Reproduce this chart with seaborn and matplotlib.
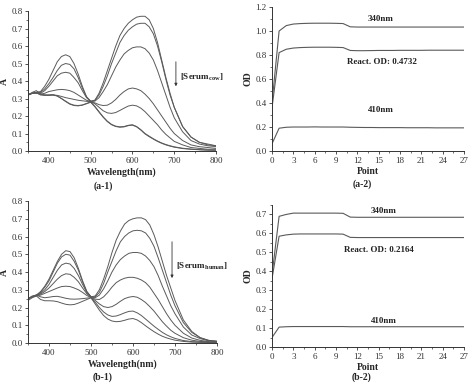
import numpy as np
import pandas as pd
import matplotlib
matplotlib.use("Agg")
import matplotlib.pyplot as plt
import seaborn as sns
from matplotlib.ticker import MultipleLocator

# --- spectra (a-1): cow serum ---
wl = [350, 360, 370, 380, 390, 400, 410, 420, 430, 440, 450, 460, 470, 480, 490,
      500, 510, 520, 530, 540, 550, 560, 570, 580, 590, 600, 610, 620, 630, 640,
      650, 660, 670, 680, 690, 700, 720, 740, 760, 780, 800]

cow_1 = [0.32, 0.33, 0.335, 0.34, 0.37, 0.41, 0.46, 0.51, 0.54, 0.55, 0.54, 0.50, 0.44, 0.37, 0.31,
         0.28, 0.29, 0.33, 0.39, 0.46, 0.53, 0.60, 0.66, 0.70, 0.73, 0.75, 0.765, 0.77, 0.77, 0.75,
         0.70, 0.62, 0.52, 0.42, 0.33, 0.25, 0.14, 0.08, 0.05, 0.04, 0.03]
cow_2 = [0.32, 0.33, 0.335, 0.335, 0.355, 0.385, 0.42, 0.46, 0.49, 0.50, 0.495, 0.47, 0.42, 0.36, 0.31,
         0.285, 0.29, 0.32, 0.37, 0.43, 0.50, 0.56, 0.62, 0.66, 0.69, 0.71, 0.725, 0.73, 0.73, 0.71,
         0.67, 0.60, 0.51, 0.41, 0.32, 0.25, 0.14, 0.08, 0.05, 0.035, 0.03]
cow_3 = [0.32, 0.33, 0.335, 0.33, 0.345, 0.37, 0.40, 0.43, 0.445, 0.45, 0.445, 0.42, 0.39, 0.345, 0.305,
         0.285, 0.285, 0.305, 0.34, 0.38, 0.43, 0.48, 0.52, 0.555, 0.575, 0.59, 0.595, 0.595, 0.585, 0.56,
         0.52, 0.46, 0.39, 0.32, 0.25, 0.19, 0.11, 0.06, 0.04, 0.03, 0.025]
cow_4 = [0.32, 0.33, 0.33, 0.325, 0.33, 0.34, 0.345, 0.35, 0.352, 0.35, 0.345, 0.335, 0.32, 0.305, 0.29,
         0.283, 0.275, 0.265, 0.26, 0.262, 0.275, 0.295, 0.32, 0.34, 0.355, 0.36, 0.355, 0.345, 0.325, 0.30,
         0.27, 0.235, 0.20, 0.165, 0.13, 0.10, 0.06, 0.035, 0.025, 0.02, 0.015]
cow_5 = [0.32, 0.33, 0.33, 0.325, 0.32, 0.32, 0.32, 0.318, 0.312, 0.305, 0.30, 0.295, 0.29, 0.287, 0.284,
         0.282, 0.27, 0.25, 0.23, 0.218, 0.215, 0.22, 0.232, 0.245, 0.257, 0.262, 0.258, 0.245, 0.225, 0.20,
         0.175, 0.15, 0.12, 0.095, 0.075, 0.055, 0.035, 0.02, 0.015, 0.01, 0.01]
cow_6 = [0.32, 0.335, 0.345, 0.325, 0.32, 0.32, 0.322, 0.315, 0.30, 0.285, 0.27, 0.262, 0.26, 0.263, 0.272,
         0.28, 0.255, 0.225, 0.195, 0.17, 0.152, 0.142, 0.138, 0.14, 0.147, 0.15, 0.14, 0.122, 0.10, 0.085,
         0.07, 0.057, 0.046, 0.037, 0.03, 0.024, 0.016, 0.011, 0.008, 0.006, 0.005]
cow_7 = [0.325, 0.33, 0.335, 0.32, 0.318, 0.318, 0.32, 0.314, 0.30, 0.283, 0.268, 0.26, 0.258, 0.262, 0.27,
         0.279, 0.253, 0.222, 0.193, 0.168, 0.15, 0.14, 0.136, 0.138, 0.145, 0.148, 0.138, 0.12, 0.098, 0.082,
         0.068, 0.055, 0.044, 0.035, 0.028, 0.022, 0.014, 0.01, 0.007, 0.005, 0.004]

# --- spectra (b-1): human serum ---
hum_1 = [0.25, 0.26, 0.27, 0.29, 0.32, 0.36, 0.41, 0.46, 0.50, 0.52, 0.515, 0.48, 0.42, 0.35, 0.29,
         0.26, 0.265, 0.30, 0.36, 0.43, 0.51, 0.58, 0.63, 0.67, 0.69, 0.70, 0.705, 0.705, 0.695, 0.665,
         0.61, 0.54, 0.46, 0.38, 0.31, 0.24, 0.13, 0.065, 0.03, 0.015, 0.01]
hum_2 = [0.25, 0.26, 0.27, 0.285, 0.315, 0.35, 0.40, 0.45, 0.485, 0.50, 0.495, 0.46, 0.41, 0.345, 0.29,
         0.26, 0.26, 0.285, 0.335, 0.40, 0.46, 0.52, 0.57, 0.60, 0.62, 0.632, 0.635, 0.632, 0.62, 0.59,
         0.545, 0.48, 0.41, 0.34, 0.27, 0.21, 0.115, 0.06, 0.03, 0.015, 0.01]
hum_3 = [0.25, 0.26, 0.27, 0.28, 0.30, 0.33, 0.37, 0.41, 0.44, 0.45, 0.445, 0.42, 0.38, 0.33, 0.285,
         0.26, 0.255, 0.27, 0.305, 0.35, 0.40, 0.44, 0.47, 0.49, 0.505, 0.51, 0.51, 0.505, 0.49, 0.465,
         0.43, 0.38, 0.32, 0.265, 0.21, 0.165, 0.09, 0.045, 0.025, 0.012, 0.008]
hum_4 = [0.25, 0.26, 0.27, 0.275, 0.29, 0.31, 0.335, 0.36, 0.38, 0.39, 0.387, 0.37, 0.345, 0.31, 0.278,
         0.258, 0.247, 0.245, 0.26, 0.285, 0.315, 0.34, 0.355, 0.365, 0.37, 0.37, 0.365, 0.355, 0.34, 0.315,
         0.28, 0.245, 0.205, 0.165, 0.13, 0.10, 0.055, 0.028, 0.015, 0.008, 0.005]
hum_5 = [0.25, 0.26, 0.265, 0.27, 0.28, 0.29, 0.30, 0.31, 0.318, 0.32, 0.318, 0.31, 0.30, 0.285, 0.268,
         0.256, 0.24, 0.22, 0.205, 0.20, 0.205, 0.218, 0.235, 0.25, 0.258, 0.262, 0.258, 0.245, 0.228, 0.205,
         0.18, 0.15, 0.12, 0.095, 0.072, 0.055, 0.03, 0.016, 0.009, 0.006, 0.004]
hum_6 = [0.25, 0.265, 0.27, 0.26, 0.255, 0.258, 0.262, 0.263, 0.258, 0.252, 0.248, 0.247, 0.248, 0.25, 0.253,
         0.255, 0.23, 0.20, 0.175, 0.158, 0.15, 0.152, 0.16, 0.17, 0.178, 0.18, 0.17, 0.155, 0.135, 0.115,
         0.095, 0.077, 0.06, 0.046, 0.035, 0.026, 0.014, 0.008, 0.005, 0.004, 0.003]
hum_7 = [0.24, 0.255, 0.265, 0.245, 0.238, 0.238, 0.237, 0.233, 0.225, 0.218, 0.215, 0.217, 0.225, 0.235, 0.245,
         0.255, 0.22, 0.185, 0.155, 0.135, 0.124, 0.12, 0.122, 0.128, 0.135, 0.138, 0.13, 0.115, 0.097, 0.08,
         0.064, 0.05, 0.038, 0.029, 0.022, 0.016, 0.009, 0.005, 0.004, 0.003, 0.002]

# --- kinetics (a-2), (b-2) ---
point = list(range(28))
a_340 = [0.40, 1.00, 1.045, 1.058, 1.062, 1.064, 1.065, 1.065, 1.065, 1.064, 1.062, 1.035, 1.033, 1.033,
         1.033, 1.033, 1.033, 1.033, 1.033, 1.033, 1.033, 1.033, 1.033, 1.033, 1.033, 1.033, 1.033, 1.033]
a_react = [0.36, 0.82, 0.848, 0.858, 0.862, 0.864, 0.865, 0.865, 0.865, 0.864, 0.862, 0.838, 0.836, 0.836,
           0.837, 0.838, 0.838, 0.838, 0.839, 0.839, 0.839, 0.839, 0.84, 0.84, 0.84, 0.84, 0.84, 0.84]
a_410 = [0.06, 0.19, 0.198, 0.2, 0.2, 0.2, 0.201, 0.2, 0.2, 0.2, 0.2, 0.198, 0.197, 0.196,
         0.196, 0.195, 0.195, 0.195, 0.195, 0.194, 0.194, 0.194, 0.194, 0.193, 0.193, 0.193, 0.193, 0.193]
b_340 = [0.38, 0.69, 0.70, 0.707, 0.707, 0.707, 0.707, 0.707, 0.707, 0.707, 0.706, 0.686, 0.685, 0.685,
         0.685, 0.685, 0.685, 0.685, 0.685, 0.685, 0.685, 0.685, 0.685, 0.685, 0.685, 0.685, 0.685, 0.685]
b_react = [0.36, 0.585, 0.592, 0.596, 0.597, 0.597, 0.597, 0.597, 0.597, 0.597, 0.596, 0.579, 0.578, 0.578,
           0.578, 0.578, 0.578, 0.578, 0.578, 0.578, 0.578, 0.578, 0.578, 0.578, 0.578, 0.578, 0.578, 0.578]
b_410 = [0.05, 0.105, 0.107, 0.108, 0.108, 0.108, 0.108, 0.108, 0.108, 0.108, 0.108, 0.107, 0.107, 0.107,
         0.107, 0.107, 0.107, 0.107, 0.107, 0.107, 0.107, 0.107, 0.107, 0.107, 0.107, 0.107, 0.107, 0.107]

sns.set_style("ticks")
plt.rcParams['font.family'] = ['Liberation Serif', 'DejaVu Serif']
plt.rcParams['xtick.direction'] = 'out'
plt.rcParams['ytick.direction'] = 'out'

line_col = '#5a5a5a'
fig = plt.figure(figsize=(4.7, 3.83), dpi=100)

ax1 = fig.add_axes([0.0596, 0.6057, 0.40, 0.3655])
ax2 = fig.add_axes([0.5787, 0.6057, 0.4085, 0.376])
ax3 = fig.add_axes([0.0596, 0.1044, 0.402, 0.3708])
ax4 = fig.add_axes([0.5787, 0.094, 0.4085, 0.3708])


def style_axes(ax, fs=6.5):
    sns.despine(ax=ax)
    for s in ['left', 'bottom']:
        ax.spines[s].set_linewidth(0.7)
        ax.spines[s].set_color('#333333')
    ax.tick_params(which='major', length=2.5, width=0.6, labelsize=fs, pad=1.5, colors='#333333')
    ax.tick_params(which='minor', length=1.5, width=0.5, colors='#333333')


for ax, curves in [(ax1, [cow_1, cow_2, cow_3, cow_4, cow_5, cow_6, cow_7]),
                   (ax3, [hum_1, hum_2, hum_3, hum_4, hum_5, hum_6, hum_7])]:
    for c in curves:
        sns.lineplot(x=wl, y=c, ax=ax, color=line_col, linewidth=0.7)
    ax.set_xlim(350, 800)
    ax.set_ylim(0, 0.8)
    ax.xaxis.set_minor_locator(MultipleLocator(50))
    ax.yaxis.set_major_locator(MultipleLocator(0.1))
    ax.yaxis.set_minor_locator(MultipleLocator(0.05))
    ax.set_xticks([400, 500, 600, 700, 800])
    ax.yaxis.set_major_formatter(matplotlib.ticker.FormatStrFormatter('%.1f'))
    style_axes(ax)
    ax.set_xlabel('Wavelength(nm)', fontsize=7, fontweight='bold', labelpad=2)
    ax.set_ylabel('A', fontsize=7, fontweight='bold', labelpad=2)

for ax, s340, sre, s410, top, major in [(ax2, a_340, a_react, a_410, 1.2, 0.2),
                                         (ax4, b_340, b_react, b_410, 0.75, 0.1)]:
    for c in [s340, sre, s410]:
        sns.lineplot(x=point, y=c, ax=ax, color=line_col, linewidth=0.8)
    ax.set_xlim(0, 27)
    ax.set_ylim(0, top)
    ax.xaxis.set_major_locator(MultipleLocator(3))
    ax.xaxis.set_minor_locator(MultipleLocator(1.5))
    ax.yaxis.set_major_locator(MultipleLocator(major))
    ax.yaxis.set_minor_locator(MultipleLocator(major / 2))
    ax.yaxis.set_major_formatter(matplotlib.ticker.FormatStrFormatter('%.1f'))
    style_axes(ax)
    ax.set_xlabel('Point', fontsize=7, fontweight='bold', labelpad=2)
    ax.set_ylabel('OD', fontsize=7, fontweight='bold', labelpad=2)

tkw = dict(fontsize=6.5, fontweight='bold', ha='center', va='center', color='#222222')
ax2.text(15.3, 1.10, '340nm', **tkw)
ax2.text(15.5, 0.745, 'React. OD: 0.4732', **tkw)
ax2.text(15.3, 0.34, '410nm', **tkw)
ax4.text(15.7, 0.72, '340nm', **tkw)
ax4.text(15.0, 0.51, 'React. OD: 0.2164', **tkw)
ax4.text(15.8, 0.138, '410nm', **tkw)

# concentration arrows
ax1.annotate('', xy=(704, 0.354), xytext=(704, 0.526),
             arrowprops=dict(arrowstyle='-|>', color='#333333', lw=0.6, mutation_scale=4))
ax1.text(714, 0.42, r'[Serum$_{\mathregular{cow}}$]', fontsize=6.5, fontweight='bold',
         va='center', ha='left', clip_on=False)
ax3.annotate('', xy=(693, 0.35), xytext=(693, 0.586),
             arrowprops=dict(arrowstyle='-|>', color='#333333', lw=0.6, mutation_scale=4))
ax3.text(702, 0.43, r'[Serum$_{\mathregular{human}}$]', fontsize=6.5, fontweight='bold',
         va='center', ha='left', clip_on=False)

# panel labels
fig.text(103 / 470, 1 - 186 / 383, '(a-1)', fontsize=7, fontweight='bold', ha='center', va='center')
fig.text(362 / 470, 1 - 184 / 383, '(a-2)', fontsize=7, fontweight='bold', ha='center', va='center')
fig.text(103 / 470, 1 - 377 / 383, '(b-1)', fontsize=7, fontweight='bold', ha='center', va='center')
fig.text(362 / 470, 1 - 377 / 383, '(b-2)', fontsize=7, fontweight='bold', ha='center', va='center')

fig.savefig('out.png', dpi=100)
